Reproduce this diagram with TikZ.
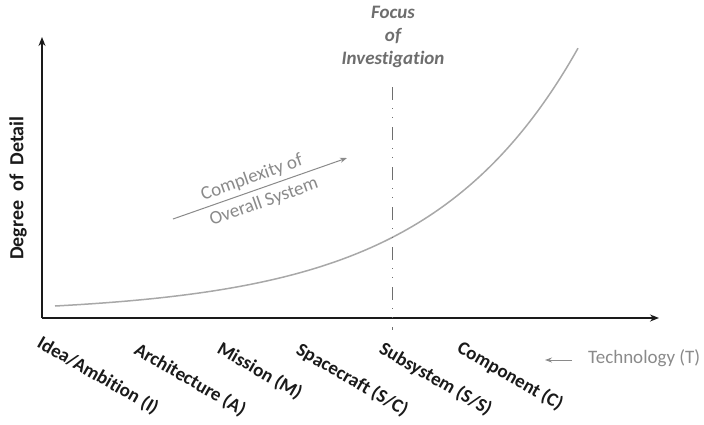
\documentclass[tikz,border=0pt]{standalone}
\usepackage{fontspec}
\setmainfont{Carlito}[Ligatures=NoCommon]
\usetikzlibrary{arrows.meta}
\definecolor{curvegray}{HTML}{A8A8A8}
\definecolor{textgray}{HTML}{8A8A8A}
\definecolor{focusgray}{HTML}{6E6E6E}
\definecolor{axisblack}{HTML}{1A1A1A}
\tikzset{
  axisline/.style={draw=axisblack, line width=1.4pt, -{Stealth[length=9pt,width=7pt]}},
  stagelabel/.style={font=\fontsize{19}{20}\selectfont\bfseries, text=axisblack, rotate=-30, anchor=north west, inner sep=0pt},
  graytext/.style={font=\fontsize{19}{21}\selectfont, text=textgray, inner sep=0pt},
  focustext/.style={font=\fontsize{19}{23}\selectfont\bfseries\itshape, text=focusgray, align=center, inner sep=0pt},
  grayarrow/.style={draw=textgray, line width=1pt, -{Stealth[length=7pt,width=5pt]}},
  focusline/.style={draw=focusgray, line width=1pt, dash pattern=on 13pt off 8pt on 1pt off 8pt on 1pt off 9pt},
}
\begin{document}
\begin{tikzpicture}[x=1pt,y=-1pt]
\useasboundingbox (0,0) rectangle (704,424);
% axes
\coordinate (origin) at (42,318);
\coordinate (ytop) at (42,37);
\coordinate (xend) at (659,318);
\draw[axisline] (origin) -- (ytop);
\draw[axisline] (origin) -- (xend);
% y label
\node[font=\fontsize{20}{22}\selectfont\bfseries, text=axisblack, rotate=90, inner sep=0pt] (ylabel) at (18,188) {Degree\ \ of\ \ Detail};
% curve
\draw[curvegray, line width=1.5pt] plot[domain=55:578, samples=120, variable=\t] ({\t},{314-8*exp(0.0067*(\t-55))});
% focus line
\coordinate (ftop) at (392,87);
\coordinate (fbot) at (392,330);
\draw[focusline] (ftop) -- (fbot);
\node[focustext] (focus) at (393,37) {Focus\\of\\Investigation};
% complexity arrow
\coordinate (cs) at (173,219);
\coordinate (ce) at (347,158);
\draw[grayarrow] (cs) -- (ce);
\node[graytext, rotate=19.5] (cx1) at (252,178) {Complexity of};
\node[graytext, rotate=19.5] (cx2) at (264,202) {Overall System};
% stage labels
\node[stagelabel] (idea) at (43,334) {Idea/Ambition (I)};
\node[stagelabel] (arch) at (140,341) {Architecture (A)};
\node[stagelabel] (miss) at (223,340) {Mission (M)};
\node[stagelabel] (sc) at (302,341) {Spacecraft (S/C)};
\node[stagelabel] (ss) at (385,340) {Subsystem (S/S)};
\node[stagelabel] (comp) at (463,339) {Component (C)};
% technology
\node[graytext, anchor=west] (tech) at (588,358) {Technology (T)};
\coordinate (ta1) at (572,360);
\coordinate (ta2) at (545,360);
\draw[grayarrow, line width=0.9pt] (ta1) -- (ta2);
\end{tikzpicture}
\end{document}
